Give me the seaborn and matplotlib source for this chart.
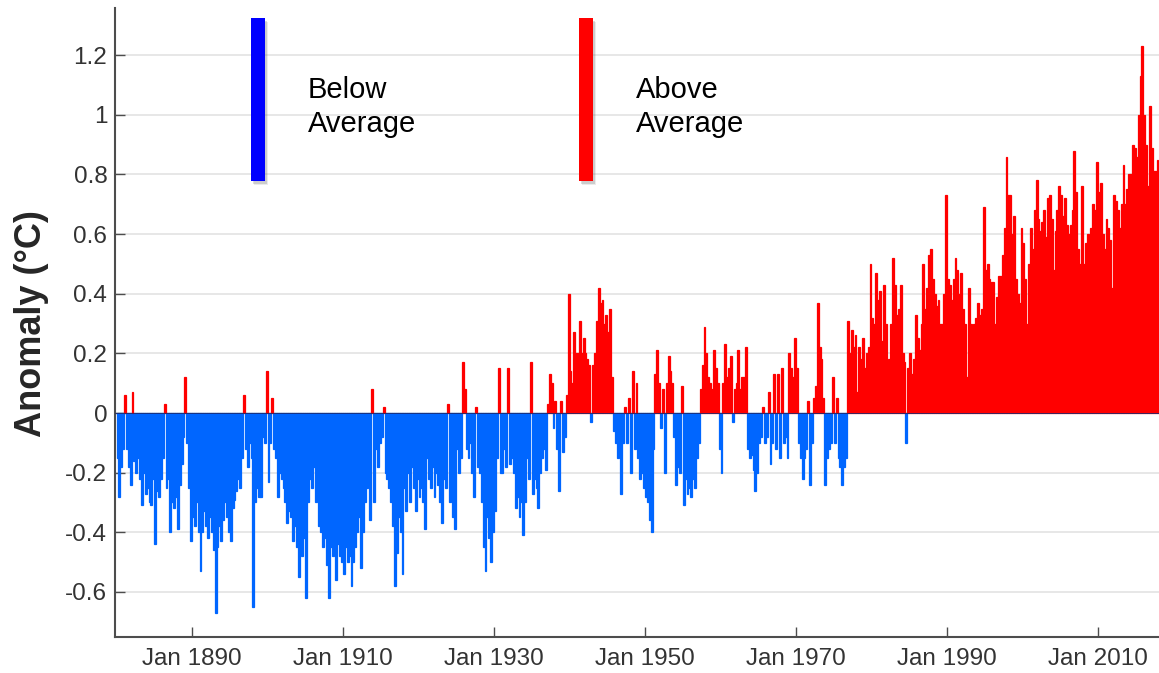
import numpy as np
import pandas as pd
import matplotlib
matplotlib.use("Agg")
import matplotlib.pyplot as plt
from matplotlib.patches import Rectangle
import seaborn as sns

# Global temperature anomaly (°C), quarterly values, one list per decade
anom_1880s = [
    -0.15, -0.28, -0.18, -0.12,
     0.06, -0.12, -0.18, -0.24,
     0.07, -0.16, -0.20, -0.15,
    -0.22, -0.31, -0.20, -0.27,
    -0.25, -0.30, -0.31, -0.22,
    -0.44, -0.26, -0.28, -0.22,
    -0.15,  0.03, -0.25, -0.22,
    -0.40, -0.30, -0.32, -0.28,
    -0.39, -0.24, -0.17, -0.08,
     0.12, -0.10, -0.25, -0.43,
]
anom_1890s = [
    -0.35, -0.38, -0.30, -0.40,
    -0.53, -0.40, -0.33, -0.38,
    -0.42, -0.35, -0.40, -0.46,
    -0.67, -0.45, -0.38, -0.43,
    -0.36, -0.30, -0.35, -0.40,
    -0.43, -0.32, -0.29, -0.26,
    -0.22, -0.25, -0.15,  0.06,
    -0.12, -0.18, -0.10, -0.15,
    -0.65, -0.30, -0.25, -0.28,
    -0.28, -0.08, -0.10,  0.14,
]
anom_1900s = [
    -0.23, -0.10,  0.05, -0.12,
    -0.15, -0.28, -0.20, -0.22,
    -0.25, -0.30, -0.37, -0.33,
    -0.35, -0.43, -0.38, -0.45,
    -0.55, -0.45, -0.48, -0.42,
    -0.62, -0.30, -0.22, -0.25,
    -0.18, -0.30, -0.28, -0.38,
    -0.40, -0.45, -0.42, -0.51,
    -0.62, -0.45, -0.48, -0.42,
    -0.56, -0.44, -0.48, -0.50,
]
anom_1910s = [
    -0.54, -0.45, -0.50, -0.48,
    -0.58, -0.50, -0.45, -0.40,
    -0.35, -0.52, -0.40, -0.30,
    -0.25, -0.20, -0.36,  0.08,
    -0.30, -0.12, -0.18, -0.10,
    -0.08,  0.02, -0.20, -0.22,
    -0.25, -0.30, -0.38, -0.58,
    -0.47, -0.35, -0.40, -0.54,
    -0.25, -0.33, -0.20, -0.30,
    -0.18, -0.25, -0.33, -0.22,
]
anom_1920s = [
    -0.28, -0.25, -0.30, -0.39,
    -0.15, -0.22, -0.25, -0.18,
    -0.28, -0.20, -0.24, -0.30,
    -0.37, -0.22, -0.25,  0.03,
    -0.30, -0.28, -0.35, -0.39,
    -0.12, -0.20, -0.15,  0.17,
     0.08, -0.12, -0.15, -0.10,
    -0.20, -0.28,  0.02, -0.18,
    -0.20, -0.30, -0.45, -0.53,
    -0.35, -0.42, -0.50, -0.40,
]
anom_1930s = [
    -0.33, -0.15,  0.15, -0.20,
    -0.20, -0.12, -0.18,  0.15,
    -0.17, -0.15, -0.20, -0.32,
    -0.28, -0.35, -0.30, -0.41,
    -0.30, -0.15, -0.22,  0.17,
    -0.27, -0.22, -0.25, -0.32,
    -0.20, -0.15, -0.12, -0.19,
     0.03,  0.13,  0.10, -0.05,
     0.04, -0.12, -0.26,  0.04,
    -0.13, -0.08,  0.06,  0.40,
]
anom_1940s = [
     0.14,  0.10,  0.27,  0.20,
     0.20,  0.31,  0.20,  0.25,
     0.20,  0.18,  0.16, -0.03,
     0.16,  0.20,  0.31,  0.42,
     0.37,  0.38,  0.30,  0.33,
     0.27,  0.35,  0.12, -0.06,
    -0.10, -0.15, -0.12, -0.27,
    -0.10,  0.02, -0.10,  0.05,
    -0.20,  0.14, -0.12,  0.10,
    -0.15, -0.22, -0.20, -0.25,
]
anom_1950s = [
    -0.28, -0.30, -0.36, -0.40,
    -0.12,  0.13,  0.21,  0.10,
    -0.05,  0.08, -0.20,  0.10,
     0.19,  0.14,  0.10, -0.08,
    -0.24, -0.18, -0.20,  0.09,
    -0.31, -0.22, -0.27, -0.25,
    -0.28, -0.22, -0.25, -0.15,
    -0.10,  0.08,  0.16,  0.29,
     0.20,  0.12,  0.10,  0.08,
     0.21,  0.15,  0.10, -0.12,
]
anom_1960s = [
    -0.20,  0.10,  0.23,  0.12,
     0.15,  0.19, -0.03,  0.08,
     0.10,  0.21,  0.08,  0.12,
     0.12,  0.22, -0.12, -0.15,
    -0.14, -0.19, -0.26, -0.20,
    -0.10, -0.08,  0.02, -0.10,
    -0.08,  0.07, -0.17, -0.10,
     0.13, -0.12,  0.13, -0.15,
     0.15, -0.10, -0.08, -0.15,
     0.20,  0.15,  0.12,  0.25,
]
anom_1970s = [
     0.15, -0.10, -0.15, -0.22,
    -0.15, -0.12,  0.04, -0.24,
    -0.10,  0.05,  0.09,  0.37,
     0.22,  0.18,  0.05, -0.24,
    -0.15, -0.12, -0.10,  0.12,
    -0.10,  0.05, -0.15, -0.18,
    -0.24, -0.18, -0.15,  0.31,
     0.20,  0.28,  0.22,  0.26,
     0.07,  0.22,  0.18,  0.25,
     0.15,  0.20,  0.22,  0.50,
]
anom_1980s = [
     0.32,  0.30,  0.47,  0.38,
     0.41,  0.24,  0.43,  0.30,
     0.15,  0.18,  0.30,  0.52,
     0.43,  0.33,  0.35,  0.43,
     0.20,  0.17, -0.10,  0.15,
     0.20,  0.13,  0.18,  0.33,
     0.25,  0.21,  0.30,  0.50,
     0.35,  0.42,  0.53,  0.55,
     0.45,  0.40,  0.36,  0.38,
     0.30,  0.30,  0.40,  0.73,
]
anom_1990s = [
     0.45,  0.43,  0.38,  0.45,
     0.52,  0.48,  0.40,  0.47,
     0.35,  0.30,  0.12,  0.42,
     0.30,  0.21,  0.30,  0.32,
     0.37,  0.33,  0.35,  0.69,
     0.48,  0.50,  0.45,  0.44,
     0.44,  0.30,  0.39,  0.46,
     0.46,  0.53,  0.62,  0.86,
     0.73,  0.73,  0.60,  0.66,
     0.45,  0.40,  0.37,  0.62,
]
anom_2000s = [
     0.57,  0.45,  0.30,  0.50,
     0.62,  0.55,  0.68,  0.78,
     0.65,  0.61,  0.64,  0.68,
     0.59,  0.72,  0.73,  0.65,
     0.48,  0.61,  0.68,  0.76,
     0.73,  0.66,  0.72,  0.63,
     0.60,  0.63,  0.68,  0.88,
     0.74,  0.55,  0.50,  0.76,
     0.50,  0.57,  0.60,  0.58,
     0.62,  0.70,  0.68,  0.84,
]
anom_2010s = [
     0.74,  0.77,  0.60,  0.55,
     0.65,  0.62,  0.58,  0.42,
     0.73,  0.71,  0.68,  0.62,
     0.70,  0.83,  0.70,  0.75,
     0.80,  0.80,  0.90,  0.89,
     0.86,  1.00,  1.13,  1.23,
     1.00,  0.90,  0.76,  1.03,
     0.89,  0.81,  0.81,  0.85,
     0.70,
]

first_year = 1880
step = 0.25  # quarter of a year

y_ticks = [-0.6, -0.4, -0.2, 0, 0.2, 0.4, 0.6, 0.8, 1, 1.2]
y_tick_labels = ["-0.6", "-0.4", "-0.2", "0", "0.2", "0.4", "0.6", "0.8", "1", "1.2"]
x_ticks = [1890, 1910, 1930, 1950, 1970, 1990, 2010]
x_tick_labels = [f"Jan {y}" for y in x_ticks]

values = np.concatenate([anom_1880s, anom_1890s, anom_1900s, anom_1910s,
                         anom_1920s, anom_1930s, anom_1940s, anom_1950s,
                         anom_1960s, anom_1970s, anom_1980s, anom_1990s,
                         anom_2000s, anom_2010s])
times = first_year + (np.arange(len(values)) + 0.5) * step
df = pd.DataFrame({
    "time": times,
    "anomaly": values,
    "side": np.where(values < 0, "Below Average", "Above Average"),
})

sns.set_theme(style="white")
plt.rcParams["font.family"] = ["Liberation Sans", "DejaVu Sans"]

W, H = 1159, 673
fig = plt.figure(figsize=(W / 100, H / 100), dpi=100)
ax = fig.add_axes([115 / W, 1 - 637 / H, 1 - 115 / W, (637 - 8) / H])

sns.barplot(
    data=df, x="time", y="anomaly", hue="side",
    hue_order=["Below Average", "Above Average"],
    palette={"Below Average": "#0066ff", "Above Average": "#ff0000"},
    native_scale=True, dodge=False, errorbar=None, width=1.0,
    saturation=1, linewidth=0, legend=False, ax=ax,
)
for bar in ax.patches:
    bar.set_edgecolor(bar.get_facecolor())
    bar.set_linewidth(0.9)

ax.axhline(0, color="#1c2a6e", lw=0.6, zorder=3)

ax.set_xlim(1879.8, 2018.08)
ax.set_ylim(-0.751, 1.358)
ax.set_yticks(y_ticks)
ax.set_yticklabels(y_tick_labels)
ax.set_xticks(x_ticks)
ax.set_xticklabels(x_tick_labels)
ax.set_xlabel("")

ax.grid(axis="y", color="#e3e3e3", lw=1.2)
ax.grid(axis="x", visible=False)
ax.set_axisbelow(True)

for side in ("top", "right"):
    ax.spines[side].set_visible(False)
for side in ("left", "bottom"):
    ax.spines[side].set_color("#4d4d4d")
    ax.spines[side].set_linewidth(1.5)

ax.tick_params(axis="both", direction="in", length=7, width=1,
               color="#4d4d4d", labelcolor="#333333",
               left=True, bottom=True)
ax.tick_params(axis="y", pad=5.5, labelsize=17.5)
ax.tick_params(axis="x", pad=8, labelsize=17.5)

ax.set_ylabel("Anomaly (°C)", fontsize=26, fontweight="bold",
              color="#262626", va="center")
ax.yaxis.set_label_coords((32 - 115) / 1044, (637 - 323.5) / 629)

# Colour key: two upright bars with a soft drop shadow
def key_bar(x_left, color):
    x0, w = x_left / W, 14 / W
    y0, h = 1 - 181 / H, 163 / H
    for dx, dy, a in ((3, 4, 0.12), (2, 3, 0.22)):
        fig.add_artist(Rectangle((x0 + dx / W, y0 - dy / H), w, h,
                                 transform=fig.transFigure,
                                 facecolor="#606060", edgecolor="none",
                                 alpha=a))
    fig.add_artist(Rectangle((x0, y0), w, h, transform=fig.transFigure,
                             facecolor=color, edgecolor="none"))

key_bar(251, "#0000ff")
key_bar(579, "#ff0000")

fig.text(308 / W, 1 - 107 / H, "Below\nAverage", fontsize=21, ha="left",
         va="center", linespacing=1.25, color="black")
fig.text(636 / W, 1 - 107 / H, "Above\nAverage", fontsize=21, ha="left",
         va="center", linespacing=1.25, color="black")

fig.savefig("out.png", dpi=100)
